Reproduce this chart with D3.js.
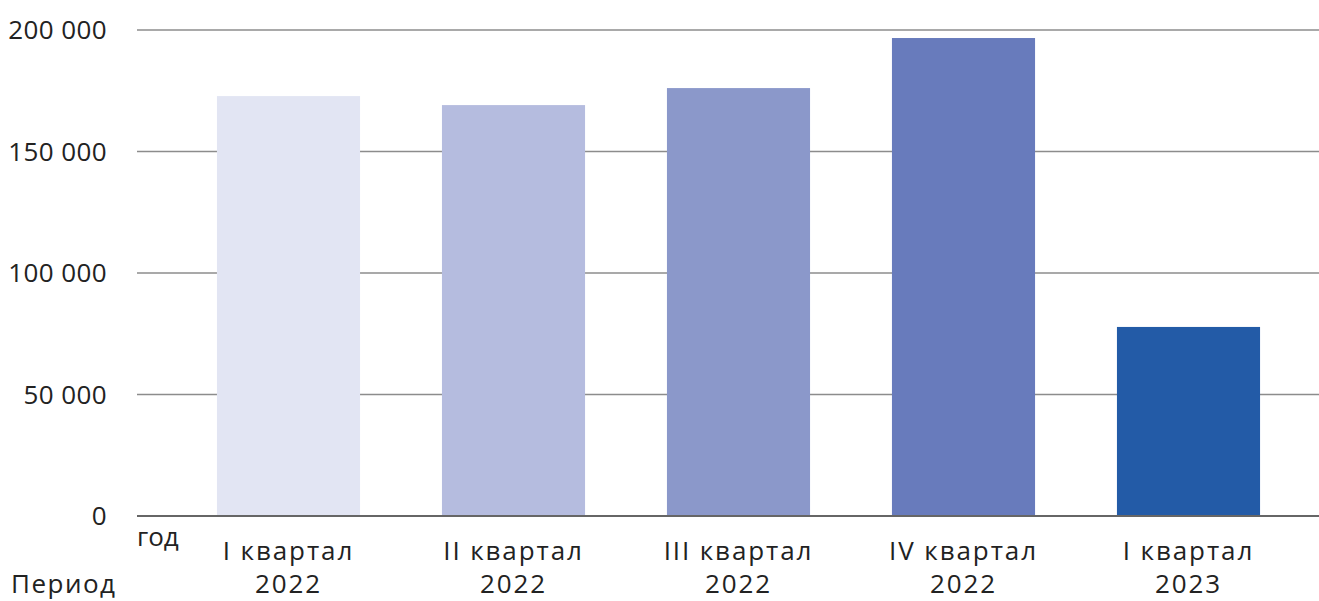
<!DOCTYPE html>
<html>
<head>
<meta charset="utf-8">
<script src="https://cdn.jsdelivr.net/npm/d3@7"></script>
<style>
  body { margin: 0; background: #fff; }
  svg text { font-family: "Open Sans", sans-serif; fill: #222; }
</style>
</head>
<body>
<div id="chart"></div>
<script>
// Data
const quarters = ['I квартал', 'II квартал', 'III квартал', 'IV квартал', 'I квартал'];
const years = ['2022', '2022', '2022', '2022', '2023'];
const values = [172800, 169100, 176100, 196700, 77800];
const bar_colors = ['#e2e5f3', '#b5bcdf', '#8b98ca', '#687bbc', '#235ba7'];
const y_ticks = [0, 50000, 100000, 150000, 200000];

const C = {
  width: 1319,
  height: 601,
  grid_left: 137,
  grid_right: 1319,
  band_left: 176,
  band_right: 1301,
  y_top: 30,
  y_bottom: 516,
  font_size: 26,
  cat_spacing: 1.9,
};

const svg = d3.select('#chart').append('svg')
  .attr('width', C.width)
  .attr('height', C.height);

const ids = quarters.map((q, i) => i);

const X = d3.scaleBand()
  .domain(ids)
  .range([C.band_left, C.band_right])
  .paddingInner(0.364)
  .paddingOuter(0.182);

const Y = d3.scaleLinear()
  .domain([0, 200000])
  .range([C.y_bottom, C.y_top]);

const fmt = v => d3.format(',')(v).replace(/,/g, ' ');

// Gridlines (skip zero, drawn as axis line later)
svg.selectAll('line.grid')
  .data(y_ticks.filter(d => d > 0))
  .join('line')
  .attr('class', 'grid')
  .attr('x1', C.grid_left)
  .attr('x2', C.grid_right)
  .attr('y1', d => Y(d))
  .attr('y2', d => Y(d))
  .attr('stroke', '#8c8c8c')
  .attr('stroke-width', 1.5);

// Y tick labels
svg.selectAll('text.ytick')
  .data(y_ticks)
  .join('text')
  .attr('class', 'ytick')
  .attr('x', 107)
  .attr('y', d => Y(d))
  .attr('dy', '0.35em')
  .attr('text-anchor', 'end')
  .style('font-size', C.font_size + 'px')
  .style('letter-spacing', '0.4px')
  .text(fmt);

// Bars
svg.selectAll('rect.bar')
  .data(values)
  .join('rect')
  .attr('class', 'bar')
  .attr('x', (d, i) => X(i))
  .attr('width', X.bandwidth())
  .attr('y', d => Y(d))
  .attr('height', d => Y(0) - Y(d))
  .attr('fill', (d, i) => bar_colors[i]);

// Zero axis line
svg.append('line')
  .attr('x1', C.grid_left)
  .attr('x2', C.grid_right)
  .attr('y1', Y(0))
  .attr('y2', Y(0))
  .attr('stroke', '#666')
  .attr('stroke-width', 2);

// Category labels (two lines)
const cat = svg.selectAll('g.cat')
  .data(ids)
  .join('g')
  .attr('class', 'cat')
  .attr('transform', i => `translate(${X(i) + X.bandwidth() / 2},0)`);

cat.append('text')
  .attr('y', 560)
  .attr('text-anchor', 'middle')
  .style('font-size', C.font_size + 'px')
  .style('letter-spacing', C.cat_spacing + 'px')
  .text(i => quarters[i]);

cat.append('text')
  .attr('y', 593)
  .attr('text-anchor', 'middle')
  .style('font-size', C.font_size + 'px')
  .style('letter-spacing', C.cat_spacing + 'px')
  .text(i => years[i]);

// Hierarchy level labels
svg.append('text')
  .attr('x', 137)
  .attr('y', 546)
  .style('font-size', C.font_size + 'px')
  .text('год');

svg.append('text')
  .attr('x', 11)
  .attr('y', 593)
  .style('font-size', C.font_size + 'px')
  .style('letter-spacing', '1.5px')
  .text('Период');
</script>
</body>
</html>
